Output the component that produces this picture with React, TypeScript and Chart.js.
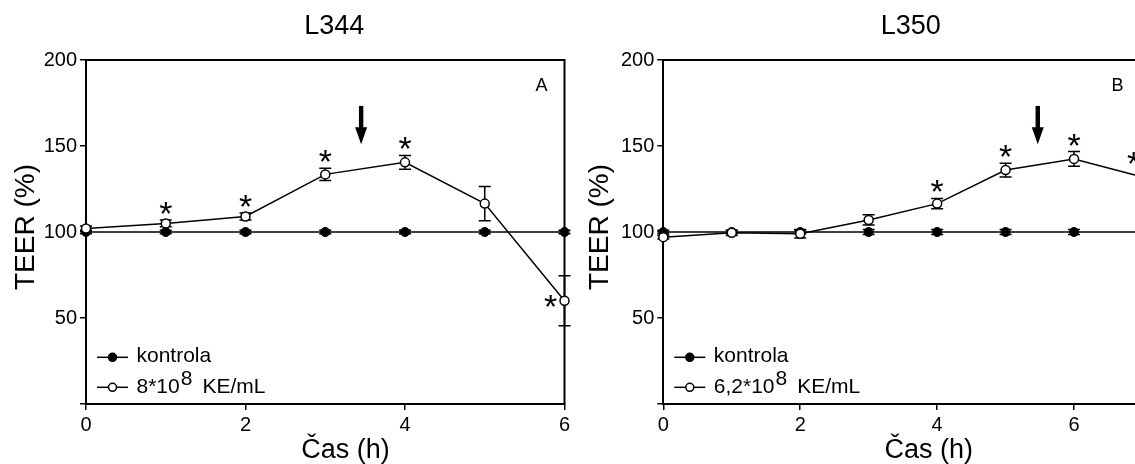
import React, { useEffect, useRef } from "react";
import { Chart, registerables } from "chart.js";

Chart.register(...registerables);

const FONT = '"Liberation Sans", Arial, Helvetica, sans-serif';

// ---- Data: panel A (L344) ----
const hoursA = [0, 1, 2, 3, 4, 5, 6];
const kontrolaA = [100, 100, 100, 100, 100, 100, 100];
const kontrolaErrA = [1, 1, 1, 1, 1, 1, 1];
const treatedA = [102, 105, 109, 133.5, 140.5, 116.5, 60];
const treatedErrA = [1.5, 2, 2, 3.5, 4, 10, 14.5];
const signifA = [1, 2, 3, 4, 6];

// ---- Data: panel B (L350) ----
const hoursB = [0, 1, 2, 3, 4, 5, 6, 7];
const kontrolaB = [100, 100, 100, 100, 100, 100, 100, 100];
const kontrolaErrB = [1, 1, 1, 1.5, 1.5, 1.5, 1.5, 1.5];
const treatedB = [97, 99.5, 99, 107, 116.5, 136, 142.5, 132];
const treatedErrB = [1, 1.5, 2.5, 3, 3, 4, 4.3, 4];
const signifB = [4, 5, 6, 7];

// ---- Ticks ----
const yTicks = [0, 50, 100, 150, 200];
const xTicks = [0, 2, 4, 6];

type Panel = {
  canvasLeft: number;
  width: number;
  yWidth: number;
  padTop: number;
  padRight: number;
  xMax: number;
  title: string;
  titleX: number;
  letter: string;
  letterDx: number;
  legendMain: string;
  legendSup: string;
  legendTail: string;
  arrowHour: number;
  xTitleX: number;
  yTitleX: number;
  hours: number[];
  kontrola: number[];
  kontrolaErr: number[];
  treated: number[];
  treatedErr: number[];
  signif: number[];
  starOffsets: Record<number, [number, number]>;
};

const panelA: Panel = {
  canvasLeft: 0,
  width: 580,
  yWidth: 86,
  padTop: 60,
  padRight: 15.5,
  xMax: 6,
  title: "L344",
  titleX: 334.3,
  letter: "A",
  letterDx: -23,
  legendMain: "8*10",
  legendSup: "8",
  legendTail: "KE/mL",
  arrowHour: 3.45,
  xTitleX: 345.5,
  yTitleX: 33.5,
  hours: hoursA,
  kontrola: kontrolaA,
  kontrolaErr: kontrolaErrA,
  treated: treatedA,
  treatedErr: treatedErrA,
  signif: signifA,
  starOffsets: { 6: [-14, 0] },
};

const panelB: Panel = {
  canvasLeft: 580,
  width: 590,
  yWidth: 83.3,
  padTop: 60,
  padRight: 27.5,
  xMax: 7,
  title: "L350",
  titleX: 330.8,
  letter: "B",
  letterDx: -25,
  legendMain: "6,2*10",
  legendSup: "8",
  legendTail: "KE/mL",
  arrowHour: 5.47,
  xTitleX: 348.8,
  yTitleX: 27.8,
  hours: hoursB,
  kontrola: kontrolaB,
  kontrolaErr: kontrolaErrB,
  treated: treatedB,
  treatedErr: treatedErrB,
  signif: signifB,
  starOffsets: { 7: [-9, -19] },
};

function buildChart(canvas: HTMLCanvasElement, p: Panel) {
  const extras = {
    id: "extras",
    beforeDatasetsDraw(chart: any) {
      const { ctx, chartArea: a, scales } = chart;
      const x = scales.x;
      const y = scales.y;
      ctx.save();
      ctx.strokeStyle = "#000";
      ctx.lineWidth = 2;
      ctx.beginPath();
      ctx.moveTo(a.left, a.top);
      ctx.lineTo(a.right, a.top);
      ctx.lineTo(a.right, a.bottom);
      ctx.stroke();
      ctx.lineWidth = 1.5;
      const series: [number[], number[]][] = [
        [p.kontrola, p.kontrolaErr],
        [p.treated, p.treatedErr],
      ];
      for (const [vals, errs] of series) {
        vals.forEach((v, i) => {
          const px = x.getPixelForValue(p.hours[i]);
          const top = y.getPixelForValue(v + errs[i]);
          const bot = y.getPixelForValue(v - errs[i]);
          ctx.beginPath();
          ctx.moveTo(px, top);
          ctx.lineTo(px, bot);
          ctx.moveTo(px - 6, top);
          ctx.lineTo(px + 6, top);
          ctx.moveTo(px - 6, bot);
          ctx.lineTo(px + 6, bot);
          ctx.stroke();
        });
      }
      ctx.restore();
    },
    afterDraw(chart: any) {
      const { ctx, chartArea: a, scales } = chart;
      const x = scales.x;
      const y = scales.y;
      ctx.save();
      ctx.fillStyle = "#000";
      ctx.strokeStyle = "#000";

      // asterisks
      ctx.font = `34px ${FONT}`;
      ctx.textAlign = "center";
      ctx.textBaseline = "alphabetic";
      const m = ctx.measureText("*");
      const starMid = (m.actualBoundingBoxAscent - m.actualBoundingBoxDescent) / 2;
      p.signif.forEach((h) => {
        const i = p.hours.indexOf(h);
        const px = x.getPixelForValue(h);
        const off = p.starOffsets[h];
        let cx: number;
        let cy: number;
        if (off) {
          cx = px + off[0];
          cy = y.getPixelForValue(p.treated[i]) + off[1];
        } else {
          cx = px;
          cy = y.getPixelForValue(p.treated[i] + p.treatedErr[i]) - 12;
        }
        ctx.fillText("*", cx, cy + starMid);
      });

      // arrow
      const ax = x.getPixelForValue(p.arrowHour);
      const aTop = y.getPixelForValue(173.3);
      const aTip = y.getPixelForValue(151);
      const headLen = 17;
      ctx.fillRect(ax - 2.2, aTop, 4.4, aTip - aTop - headLen + 2);
      ctx.beginPath();
      ctx.moveTo(ax - 6, aTip - headLen);
      ctx.lineTo(ax + 6, aTip - headLen);
      ctx.lineTo(ax, aTip);
      ctx.closePath();
      ctx.fill();

      // panel letter
      ctx.font = `18px ${FONT}`;
      ctx.textAlign = "center";
      ctx.fillText(p.letter, a.right + p.letterDx, a.top + 31);

      // title
      ctx.font = `27px ${FONT}`;
      ctx.fillText(p.title, p.titleX, 34.3);

      // x title
      ctx.font = `27px ${FONT}`;
      ctx.fillText("Čas (h)", p.xTitleX, 457.5);

      // y title
      ctx.save();
      ctx.translate(p.yTitleX, (a.top + a.bottom) / 2 - 5);
      ctx.rotate(-Math.PI / 2);
      ctx.font = `28px ${FONT}`;
      ctx.textAlign = "center";
      ctx.fillText("TEER (%)", 0, 0);
      ctx.restore();

      // legend
      const lx0 = a.left + 11;
      const lx1 = a.left + 42;
      const lcx = (lx0 + lx1) / 2;
      const tx = a.left + 50.5;
      ctx.lineWidth = 1.5;
      const rows = [
        { ly: a.bottom - 46.7, by: a.bottom - 42.5, filled: true },
        { ly: a.bottom - 16.7, by: a.bottom - 10.8, filled: false },
      ];
      rows.forEach((r) => {
        ctx.beginPath();
        ctx.moveTo(lx0, r.ly);
        ctx.lineTo(lx1, r.ly);
        ctx.stroke();
        ctx.beginPath();
        ctx.arc(lcx, r.ly, 4, 0, Math.PI * 2);
        ctx.fillStyle = r.filled ? "#000" : "#fff";
        ctx.fill();
        ctx.stroke();
      });
      ctx.fillStyle = "#000";
      ctx.textAlign = "left";
      ctx.font = `21px ${FONT}`;
      ctx.fillText("kontrola", tx, rows[0].by);
      ctx.fillText(p.legendMain, tx, rows[1].by);
      const w1 = ctx.measureText(p.legendMain).width;
      ctx.fillText(p.legendSup, tx + w1 + 1, rows[1].by - 8);
      const w2 = ctx.measureText(p.legendSup).width;
      ctx.fillText(p.legendTail, tx + w1 + 1 + w2 + 10, rows[1].by);

      ctx.restore();
    },
  };

  return new Chart(canvas, {
    type: "line",
    data: {
      datasets: [
        {
          label: "treated",
          data: p.hours.map((h, i) => ({ x: h, y: p.treated[i] })),
          borderColor: "#000",
          borderWidth: 1.5,
          pointRadius: 4.5,
          pointBorderWidth: 1.5,
          pointBackgroundColor: "#fff",
          pointBorderColor: "#000",
          order: 0,
          clip: false as any,
        },
        {
          label: "kontrola",
          data: p.hours.map((h, i) => ({ x: h, y: p.kontrola[i] })),
          borderColor: "#000",
          borderWidth: 1.5,
          pointRadius: 4.5,
          pointBorderWidth: 1,
          pointBackgroundColor: "#000",
          pointBorderColor: "#000",
          order: 1,
          clip: false as any,
        },
      ],
    },
    options: {
      responsive: false,
      animation: false,
      devicePixelRatio: 1,
      layout: { padding: { top: p.padTop, right: p.padRight, bottom: 0, left: 0 } },
      plugins: {
        legend: { display: false },
        tooltip: { enabled: false },
        title: { display: false },
      },
      scales: {
        x: {
          type: "linear",
          min: 0,
          max: p.xMax,
          afterBuildTicks: (s: any) => {
            s.ticks = xTicks.map((v) => ({ value: v }));
          },
          afterFit: (s: any) => {
            s.height = 60;
          },
          grid: { drawOnChartArea: false, drawTicks: true, tickLength: 6, color: "#000", lineWidth: 1.5 },
          border: { display: true, color: "#000", width: 2 },
          ticks: {
            color: "#000",
            font: { family: FONT, size: 20 },
            padding: 3,
            maxRotation: 0,
            autoSkip: false,
          },
        },
        y: {
          type: "linear",
          min: 0,
          max: 200,
          afterBuildTicks: (s: any) => {
            s.ticks = yTicks.map((v) => ({ value: v }));
          },
          afterFit: (s: any) => {
            s.width = p.yWidth;
          },
          grid: { drawOnChartArea: false, drawTicks: true, tickLength: 6, color: "#000", lineWidth: 1.5 },
          border: { display: true, color: "#000", width: 2 },
          ticks: {
            color: "#000",
            font: { family: FONT, size: 20 },
            padding: 3,
            autoSkip: false,
            callback: (v: any) => (Number(v) === 0 ? "" : String(v)),
          },
        },
      },
    },
    plugins: [extras],
  } as any);
}

export default function App() {
  const refA = useRef<HTMLCanvasElement>(null);
  const refB = useRef<HTMLCanvasElement>(null);

  useEffect(() => {
    const cA = buildChart(refA.current!, panelA);
    const cB = buildChart(refB.current!, panelB);
    return () => {
      cA.destroy();
      cB.destroy();
    };
  }, []);

  return (
    <div
      style={{
        position: "fixed",
        left: 0,
        top: 0,
        width: 1135,
        height: 464,
        overflow: "hidden",
        background: "#fff",
      }}
    >
      <canvas
        ref={refA}
        width={panelA.width}
        height={464}
        style={{ position: "absolute", left: panelA.canvasLeft, top: 0, width: panelA.width, height: 464 }}
      />
      <canvas
        ref={refB}
        width={panelB.width}
        height={464}
        style={{ position: "absolute", left: panelB.canvasLeft, top: 0, width: panelB.width, height: 464 }}
      />
    </div>
  );
}
